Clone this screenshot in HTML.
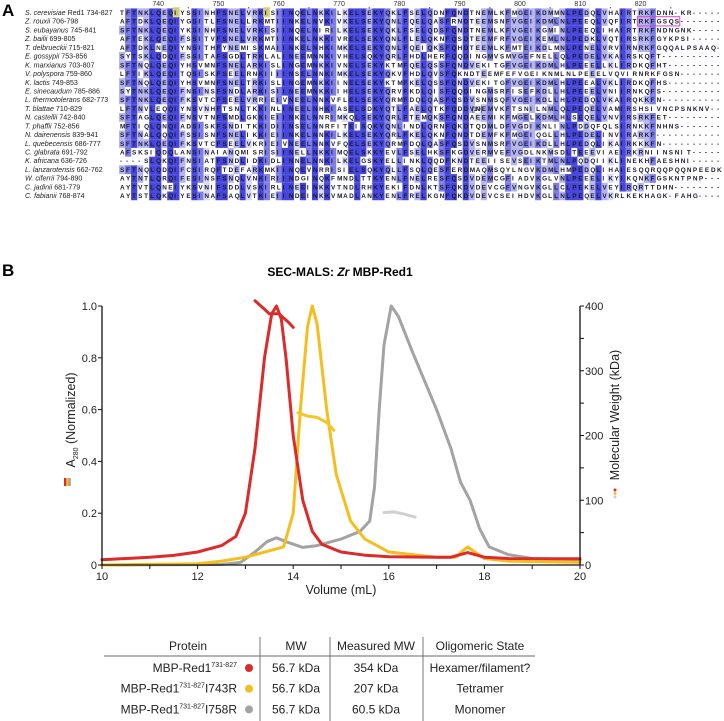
<!DOCTYPE html>
<html><head><meta charset="utf-8">
<style>
body{margin:0;background:#fff;width:724px;height:721px;overflow:hidden;font-family:"Liberation Sans",sans-serif}
svg{position:absolute;left:0;top:0}
</style></head>
<body>
<svg id="fig" width="724" height="721" viewBox="0 0 724 721" xmlns="http://www.w3.org/2000/svg">
<text x="2" y="16" font-size="17" font-weight="bold">A</text>
<g id="aln"></g>
<text x="2" y="276" font-size="17" font-weight="bold">B</text>
<text x="340" y="276" font-size="12" font-weight="bold" text-anchor="middle">SEC-MALS: <tspan font-style="italic">Zr</tspan> MBP-Red1</text>
<g id="chart"></g>
<g id="table" font-size="12" fill="#222"></g>
</svg>
<script>
const NS="http://www.w3.org/2000/svg";
function mk(tag,attrs,parent){const e=document.createElementNS(NS,tag);for(const k in attrs)e.setAttribute(k,attrs[k]);parent.appendChild(e);return e;}

/* ---------- Alignment ---------- */
const speciesNames=["S. cerevisiae","Z. rouxii","S. eubayanus","Z. bailii","T. delbrueckii","E. gossypii","K. marxianus","V. polyspora","K. lactis","E. sinecaudum","L. thermotolerans","T. blattae","N. castellii","T. phaffii","N. dairenensis","L. quebecensis","C. glabrata","K. africana","L. lanzarotensis","W. ciferrii","C. jadinii","C. fabianii"];
const speciesRanges=[" Red1 734-827"," 706-798"," 745-841"," 699-805"," 715-821"," 753-856"," 703-807"," 759-860"," 749-853"," 785-886"," 682-773"," 710-829"," 742-840"," 752-856"," 839-941"," 686-777"," 691-792"," 636-726"," 662-762"," 794-890"," 681-779"," 768-874"];
const seqs=[
"TFTNKLQEQIYSSINHFSNELVRKISIINQELNKKILKEL"+"SEKYQKLFSELQDNFQNDTNEMLKFMGEIKDMMNLPEDQLVHAIRTRKFDNN-KR",
"AFTDKLQEQIYGSITLFSNELLRKMTIINKELNVKIVKEL"+"SEKYQNLFQELQASFRNDTEEMSNFVGEIKDMLNLPEEQLVQFIRTRKFGSQS",
"SFTNKLQEQIYKSINHFSNELVRKISIINQELNIRILKEL"+"SEKYQKLFSELQDSFQNDTNEMLKFVGEIKGMINLPEEQLIHAIRTRKFNDNGNK",
"AFTEKLQEQIFSSITVFSNELVRKMTIINKELNKKIVREL"+"SEKYQNLFLELQKNFQSDTEEMFRFVGEIKEMLNLPEDKLVQTIRSRKFGYKPSI",
"AFTDKLNEQIYNSITHFYNEMISKMAIINKELNHKIMKEL"+"SEKYQNLFQEIQKSFQHDTEEMLKFMTEIKDLMNLPENELVRVIRNRKFGQQALPSAAQ",
"SYTSKLQDQIFSSITAFSGDLTRKLALINEEMNNKIVHEL"+"SQKYQRLFHDLHERFQQDINGMVSMVGEFNELLQLPEDELVKAIRSKQFT",
"SFTNQLQEQIYHSVMNFSNELARKISLINGEMNKKIVNEL"+"SEKYKTMFQELQSSFQNDVEKITGFVGEIKDMLHLPEEELLKLIRDKQFHT",
"LFTIKLQEQITQSISKFSEELRNKIIIINSELNNKIMKEL"+"SEKYQKVFHDLQVSFQKNDTEEMFEFVGEIKNMLNLPEEELVQVIRNRKFGSN",
"SFTNQLQEQIYHSVMNFSNELTRKISLINGEMNKKIINEL"+"SEKYKTMFKELQSSFQNDVEKITGFVGEIKDMLHLPEEALVKLIRDKQFHS",
"SYTNKLQEQIFNSINSFSNDLARKISIINEEMNKKIIHEL"+"SEKYQRVFKDLQISFQQDINGMSRFISEFKDLLHLPEEELVNIIRNKQFS",
"SFTNKLQEQIFKSVTCFSEELVRRIEIVNEELNNKVFLEL"+"SEKYQRMFDQLQASFQSDVSNMSQFVGEIKDLLHLPEDQLVKAIRQKKFN",
"LFTNVLEQQIYNSVNHFTSNLTKKINLINEELNHKIASEL"+"SDKYQTLFAELQTKFQDDVNEMVKFTSNILNMLQLPEQELVAMIRSHSIVNCPSNKNV",
"SFTAGLQEQIFNSVTNFSMDLGKKIEIINKELNNRIMKQL"+"SEKYQRLFTEMQKSFQNDAEEMIKFMGELKDMLHLSEQELVNVIRSRKFET",
"MFTIQLQNQIADSISKFSNDITKKIDIINSELNNRFITEI"+"SQKYQNLINDLQRNFQKDTQDMLDFVGDIKNLINLPDDQFQLSIRNKKFNHNS",
"SFTNALQQQIFSSISNFSNELIKKIEIINKELNNKILKEL"+"SEKYQRLFKELQKNFQNDTDEMFKFMGEIQGLLHLPEDELINVIRARKF",
"SFTNKLQEQIFKSVTCFSEELVKRIEIVNEELNNKVFQEL"+"SEKYQRMFDQLQASFQSDVSNMSRFVGEIKDLLHLPEDQLIKAIRKKKFN",
"AFSKSIQDQLANSINAIANQMISRISIINELLNKKIMQEL"+"SKKYEVLFSELHKSFKGDVERMVEFVGDLNKMSDLTEEEVIAEIRKRNIINSNIT",
"----SLQKQIFNSIATFSNDLIDKIDLINNELNNKILKEL"+"GSKYELLINKLQQDFKNDTEEIISEVSEIKTMLNLPQDQIIKLINEKHFAESHNI",
"SFTNQLQDQIFCSIRQFTDEFARKMKIINQEVNRRISIEL"+"SQKYQLLFSQLQESFERDMAQMSQYLNGVKDMLHMPEDQLIHAIESQQRQQPQQNPEEDK",
"AYTNTLQRQIFESINSFSNQLVNKIRIINDGINQKFMNDL"+"TTKYENLFNELRESFQSDVDEMCGFIADVKGLVNLPEEELIKYIKQNKFGSKNTPNP",
"AYTVTLQNEIYKSVNIFSDDLVSKIRLINEEINKKVTNDL"+"RHKYEKIFDNLKTSFQKDVDEVCGFVNGVKGLLCLPEKELVEYIRQRTTDHN",
"AYTSTLQKQIYESINAFSAQLVTKIEIINDEINKKVMADL"+"ANKYENLFRELKGNFQKDVDEVCSEIHDVKGLLNLPEQELVKRLKEKHAGK-FAHG"];
const tickNums=[740,750,760,770,780,790,800,810,820];

(function(){
  const g=document.getElementById('aln');
  const X0=122,CW=6.03,Y0=15,RH=8.72;
  const ncol=Math.max(...seqs.map(s=>s.length));
  const rows=seqs.map(s=>(s+'-'.repeat(ncol-s.length)).split(''));
  const colors=[];
  for(let c=0;c<ncol;c++){
    const cnt={};
    rows.forEach(r=>{const a=r[c];if(a!=='-'){cnt[a]=(cnt[a]||0)+1;}});
    let best='',bc=0;for(const k in cnt)if(cnt[k]>bc){bc=cnt[k];best=k;}
    colors.push({best,f:bc/rows.length});
  }
  const bg=mk('g',{},g);
  
  
  rows.forEach((r,ri)=>{
    for(let c=0;c<ncol;c++){
      const col=colors[c];
      if(r[c]!==col.best||r[c]==='-')continue;
      let fill=null;
      if(col.f>0.8)fill='#4646dc';else if(col.f>0.6)fill='#7d7de6';else if(col.f>0.4)fill='#b4b4f0';else if(col.f>0.3)fill='#dadaf8';
      if(!fill)continue;
      const rc=mk('rect',{x:(X0+c*CW-CW/2).toFixed(2),y:(Y0+ri*RH-6.6).toFixed(2),width:(CW+0.2).toFixed(2),height:RH.toFixed(2),fill:fill},bg);
      
      
    }
  });
  [9,24].forEach(c=>{
    const hb=mk('rect',{x:X0+c*CW-CW/2,y:Y0-7.5,width:CW,height:RH+0.5,fill:'#c8c890',stroke:'#e8e070','stroke-width':1},g);
    
    
  });
  rows.forEach((r,ri)=>{
    const y=Y0+ri*RH;
    const nm=mk('text',{x:25,y:y,'font-size':7.1,fill:'#222'},g);
    
    
    const it=mk('tspan',{'font-style':'italic'},nm);it.textContent=speciesNames[ri];
    const rg=mk('tspan',{},nm);rg.textContent=speciesRanges[ri];
    const xs=r.map((_,c)=>(X0+c*CW-2).toFixed(2)).join(' ');
    const t=mk('text',{x:xs,y:y,'font-size':6.4,'font-weight':'bold',fill:'#1a1a2a'},g);
    
    
    t.textContent=r.join('');
  });
  const ex=mk('text',{x:X0+58*CW,y:Y0+11*RH,'font-size':6.4,fill:'#222'},g);
  
  
  ex.textContent='[10]';
  const mb=mk('rect',{x:X0+86*CW-CW/2,y:Y0+RH-7,width:7*CW,height:RH+0.5,fill:'none',stroke:'#e040c8','stroke-width':1},g);
  
  
  tickNums.forEach(n=>{
    const c=n-734;
    const t=mk('text',{x:X0+c*CW,y:6,'font-size':7,'text-anchor':'middle',fill:'#333'},g);
    
    
    t.textContent=n;
    const d=mk('rect',{x:X0+(c+5)*CW-0.5,y:7,width:1,height:1.5,fill:'#555'},g);
    
    
  });
})();

/* ---------- Chart ---------- */
const redVol=[10,11,11.5,12,12.5,12.8,13,13.2,13.4,13.55,13.65,13.75,13.85,14,14.2,14.4,14.6,15,15.5,16,17,17.3,17.5,17.65,17.8,18,18.5,20];
const redAbs=[0.02,0.03,0.037,0.05,0.075,0.11,0.2,0.45,0.8,0.97,1.0,0.95,0.8,0.5,0.25,0.13,0.08,0.05,0.038,0.032,0.03,0.03,0.04,0.048,0.04,0.03,0.025,0.024];
const yelVol=[10,12,12.5,13,13.5,13.8,14,14.15,14.3,14.4,14.5,14.7,14.9,15.2,15.5,16,17,17.4,17.55,17.65,17.8,18,18.5,20];
const yelAbs=[0,0.005,0.015,0.03,0.055,0.07,0.2,0.6,0.92,1.0,0.93,0.6,0.35,0.17,0.1,0.05,0.03,0.03,0.055,0.07,0.05,0.025,0.015,0.01];
const greyVol=[10,12.5,12.9,13.2,13.45,13.65,13.85,14.2,14.5,15,15.4,15.6,15.7,15.8,15.9,16.05,16.2,16.5,17,17.3,17.5,17.7,17.9,18.1,18.5,19,20];
const greyAbs=[0,0.002,0.01,0.05,0.09,0.105,0.09,0.068,0.075,0.1,0.13,0.17,0.3,0.6,0.85,1.0,0.96,0.82,0.6,0.45,0.32,0.25,0.14,0.07,0.04,0.025,0.02];
const redMwVol=[13.2,13.4,13.5,13.7,13.9,14.0];
const redMw=[408,395,388,388,375,367];
const yelMwVol=[14.1,14.3,14.5,14.7,14.85];
const yelMw=[235,230,228,220,208];
const greyMwVol=[15.9,16.1,16.3,16.55];
const greyMw=[81,82,79,74];
const xTicks=[10,12,14,16,18,20];
const yTicks=[0,0.2,0.4,0.6,0.8,1.0];
const yTickLabels=["0","0.2","0.4","0.6","0.8","1.0"];
const y2Ticks=[0,100,200,300,400];

(function(){
  const g=document.getElementById('chart');
  const L=102,R=580,T=306,B=565;
  const xs=v=>L+(v-10)/10*(R-L);
  const ys=v=>B-v*(B-T);
  const y2=v=>B-v/400*(B-T);
  function line(vx,vy,sc,color,w,name){
    const d=vx.map((v,i)=>(i?'L':'M')+xs(v).toFixed(1)+','+sc(vy[i]).toFixed(1)).join(' ');
    const p=mk('path',{d:d,fill:'none',stroke:color,'stroke-width':w,'stroke-linejoin':'round','stroke-linecap':'round'},g);
    
    
  }
  line(greyVol,greyAbs,ys,'#a3a3a3',3,'series-i758r-a280');
  line(yelVol,yelAbs,ys,'#f5be1e',3,'series-i743r-a280');
  line(redVol,redAbs,ys,'#dd2a2a',3,'series-wt-a280');
  line(redMwVol,redMw,y2,'#dd2a2a',3,'series-wt-mw');
  line(yelMwVol,yelMw,y2,'#f5c52a',3,'series-i743r-mw');
  line(greyMwVol,greyMw,y2,'#d0d0d0',3,'series-i758r-mw');
  const ax=mk('path',{d:`M${L},${T} V${B} H${R} V${T}`,fill:'none',stroke:'#111','stroke-width':1.3},g);
  
  
  for(let v=10;v<=20;v++){
    const t=mk('line',{x1:xs(v),x2:xs(v),y1:B,y2:B+4,stroke:'#111','stroke-width':1},g);
    
    
  }
  xTicks.forEach(v=>{
    const t=mk('text',{x:xs(v),y:B+15,'font-size':11,'text-anchor':'middle',fill:'#222'},g);
    
    
    t.textContent=v;
  });
  yTicks.forEach((v,i)=>{
    const t=mk('line',{x1:L-4,x2:L,y1:ys(v),y2:ys(v),stroke:'#111','stroke-width':1},g);
    
    
    const l=mk('text',{x:L-5,y:ys(v)+4,'font-size':11,'text-anchor':'end',fill:'#222'},g);
    
    
    l.textContent=yTickLabels[i];
  });
  for(let v=0;v<=400;v+=50){
    const t=mk('line',{x1:R,x2:R+4,y1:y2(v),y2:y2(v),stroke:'#111','stroke-width':1},g);
    
    
  }
  y2Ticks.forEach(v=>{
    const l=mk('text',{x:R+5,y:y2(v)+4,'font-size':11,fill:'#222'},g);
    
    
    l.textContent=v;
  });
  const xl=mk('text',{x:(L+R)/2,y:B+29,'font-size':12.5,'text-anchor':'middle',fill:'#222'},g);
  
  
  xl.textContent='Volume (mL)';
  const yl=mk('text',{transform:'translate(75,420) rotate(-90)','font-size':12.5,'text-anchor':'middle',fill:'#222'},g);
  
  
  yl.textContent='A';
  const sub=mk('tspan',{'font-size':7,dy:3},yl);sub.textContent='280';
  const rest=mk('tspan',{dy:-3},yl);rest.textContent=' (Normalized)';
  ['#dd2a2a','#f5be1e','#a3a3a3'].forEach((c,i)=>{
    const s=mk('rect',{x:64+i*2.2,y:478,width:2.4,height:8,fill:c},g);
    
    
  });
  const yr=mk('text',{transform:'translate(619,415) rotate(-90)','font-size':12.5,'text-anchor':'middle',fill:'#222'},g);
  
  
  yr.textContent='Molecular Weight (kDa)';
  ['#dd2a2a','#f5c52a','#d0d0d0'].forEach((c,i)=>{
    const s=mk('circle',{cx:615,cy:490+i*3.5,r:1.5,fill:c},g);
    
    
  });
})();

/* ---------- Table ---------- */
const tblHeaders=["Protein","MW","Measured MW","Oligomeric State"];
const tblMut=["","I743R","I758R"];
const tblMW=["56.7 kDa","56.7 kDa","56.7 kDa"];
const tblMeasured=["354 kDa","207 kDa","60.5 kDa"];
const tblState=["Hexamer/filament?","Tetramer","Monomer"];
const tblDots=["#dd2a2a","#f5be1e","#a3a3a3"];
(function(){
  const g=document.getElementById('table');
  const colX=[188,296,376,480];
  tblHeaders.forEach((h,i)=>{
    const t=mk('text',{x:colX[i],y:650,'text-anchor':'middle'},g);
    
    
    t.textContent=h;
  });
  const rule=mk('line',{x1:104,x2:535,y1:656,y2:656,stroke:'#888','stroke-width':1.2},g);
  
  
  [260,330,423].forEach(x=>{
    const l=mk('line',{x1:x,x2:x,y1:637,y2:721,stroke:'#555','stroke-width':0.8},g);
    
    
  });
  for(let r=0;r<3;r++){
    const y=672+r*20.7;
    const p=mk('text',{x:237,y:y,'text-anchor':'end'},g);
    
    
    const a=mk('tspan',{},p);a.textContent='MBP-Red1';
    const s=mk('tspan',{'font-size':7,dy:-5},p);s.textContent='731-827';
    const m=mk('tspan',{dy:5},p);m.textContent=tblMut[r];
    const d=mk('circle',{cx:249,cy:y-4,r:4,fill:tblDots[r]},g);
    
    
    [[tblMW,296],[tblMeasured,376],[tblState,480]].forEach(([arr,x])=>{
      const t=mk('text',{x:x,y:y,'text-anchor':'middle'},g);
      
      
      t.textContent=arr[r];
    });
  }
})();
</script>
</body></html>
